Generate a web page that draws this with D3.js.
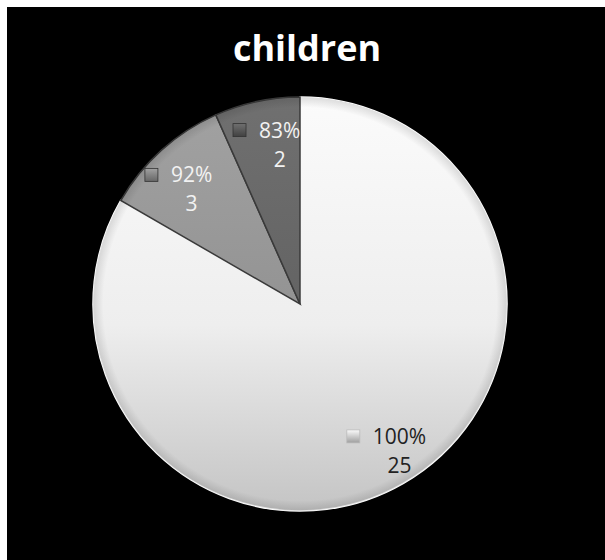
<!DOCTYPE html>
<meta charset="utf-8">
<script src="https://d3js.org/d3.v7.min.js"></script>
<style>
  body { margin: 0; background: #fff; }
</style>
<div id="chart"></div>
<script>
  // data
  var labels = ["100%", "92%", "83%"];
  var counts = [25, 3, 2];
  var title = "children";

  var W = 605, H = 560;
  var cx = 300, cy = 304, r = 207;

  var svg = d3.select("#chart").append("svg")
    .attr("width", W).attr("height", H);

  // black chart area with thin white border top/left
  svg.append("rect").attr("x", 7).attr("y", 7)
    .attr("width", W - 7).attr("height", H - 7)
    .attr("fill", "#000");

  var defs = svg.append("defs");
  // one gradient per slice, lighter top, darker bottom
  var shades = [
    ["#fbfbfb", "#eeeeee", "#c4c4c4"],
    ["#a2a2a2", "#929292", "#7e7e7e"],
    ["#707070", "#626262", "#505050"]
  ];
  shades.forEach(function(s, i) {
    var gr = defs.append("linearGradient").attr("id", "g" + i)
      .attr("gradientUnits", "userSpaceOnUse")
      .attr("x1", 0).attr("y1", -r).attr("x2", 0).attr("y2", r);
    gr.append("stop").attr("offset", "0").attr("stop-color", s[0]);
    gr.append("stop").attr("offset", "0.55").attr("stop-color", s[1]);
    gr.append("stop").attr("offset", "1").attr("stop-color", s[2]);

    var sq = defs.append("linearGradient").attr("id", "sq" + i)
      .attr("x1", 0).attr("y1", 0).attr("x2", 0).attr("y2", 1);
    sq.append("stop").attr("offset", "0").attr("stop-color", s[0]);
    sq.append("stop").attr("offset", "1").attr("stop-color", d3.color(s[2]).darker(0.6));
  });
  // soft dark rim for the bevel look
  var rim = defs.append("radialGradient").attr("id", "rim")
    .attr("gradientUnits", "userSpaceOnUse")
    .attr("cx", 0).attr("cy", 0).attr("r", r);
  rim.append("stop").attr("offset", "0.95").attr("stop-color", "#000").attr("stop-opacity", 0);
  rim.append("stop").attr("offset", "1").attr("stop-color", "#000").attr("stop-opacity", 0.12);

  var pie = d3.pie().sort(null).value(function(d) { return d; });
  var arcs = pie(counts);
  var arc = d3.arc().innerRadius(0).outerRadius(r);
  var labelArc = d3.arc().innerRadius(165).outerRadius(165);

  var g = svg.append("g").attr("transform", "translate(" + cx + "," + cy + ")");

  g.selectAll("path.slice")
    .data(arcs)
    .enter().append("path")
      .attr("class", "slice")
      .attr("d", arc)
      .attr("fill", function(d, i) { return "url(#g" + i + ")"; })
      .attr("stroke", function(d, i) { return i == 0 ? "#fff" : "#3a3a3a"; })
      .attr("stroke-width", 1.5);

  g.selectAll("path.rim")
    .data(arcs)
    .enter().append("path")
      .attr("class", "rim")
      .attr("d", arc)
      .attr("fill", "url(#rim)");

  // labels (small nudges to follow the original's best-fit placement)
  var nudge = [[17, 2], [2, 6], [14, 0]];
  var lab = g.selectAll("g.lab")
    .data(arcs)
    .enter().append("g")
      .attr("class", "lab")
      .attr("transform", function(d, i) {
        var c = labelArc.centroid(d);
        return "translate(" + (c[0] + nudge[i][0]) + "," + (c[1] + nudge[i][1]) + ")";
      });

  lab.append("text")
    .attr("text-anchor", "middle")
    .attr("y", -5)
    .style("font-family", "'Open Sans', sans-serif")
    .style("font-size", "21px")
    .attr("fill", function(d, i) { return i == 0 ? "#222" : "#f2f2f2"; })
    .text(function(d, i) { return labels[i]; })
    .each(function(d) {
      var bb = this.getBBox();
      d.textLeft = bb.x;
    });

  lab.append("text")
    .attr("text-anchor", "middle")
    .attr("y", 24)
    .style("font-family", "'Open Sans', sans-serif")
    .style("font-size", "21px")
    .attr("fill", function(d, i) { return i == 0 ? "#222" : "#f2f2f2"; })
    .text(function(d, i) { return counts[i]; });

  // small legend squares left of the percentage
  lab.append("rect")
    .attr("x", function(d) { return d.textLeft - 26; })
    .attr("y", -19)
    .attr("width", 13).attr("height", 13)
    .attr("fill", function(d, i) { return "url(#sq" + i + ")"; })
    .attr("stroke", function(d, i) { return i == 0 ? "#bbb" : "#333"; })
    .attr("stroke-width", 0.8);

  // title
  svg.append("text")
    .attr("x", 307).attr("y", 61)
    .attr("text-anchor", "middle")
    .style("font-family", "'Open Sans', sans-serif")
    .style("font-weight", "bold")
    .style("font-size", "36px")
    .attr("fill", "#fff")
    .text(title);
</script>
